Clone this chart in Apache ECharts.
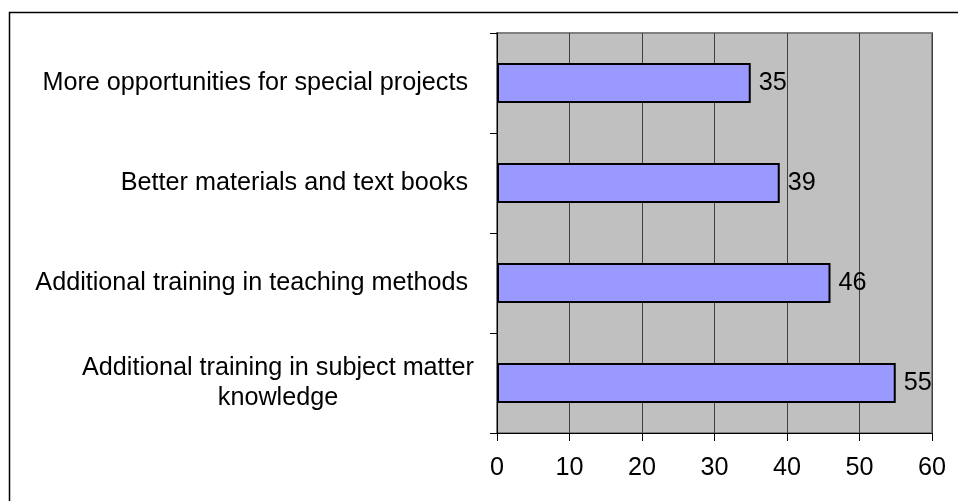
<!DOCTYPE html>
<html>
<head>
<meta charset="utf-8">
<style>
  html, body { margin: 0; padding: 0; background: #ffffff; }
  #chart { width: 958px; height: 501px; }
</style>
<script src="https://cdn.jsdelivr.net/npm/echarts@6/dist/echarts.min.js"></script>
</head>
<body>
<div id="chart"></div>
<script>
// Survey responses: what would most help teachers (percent)
const categories = [
  'More opportunities for special projects',
  'Better materials and text books',
  'Additional training in teaching methods',
  'Additional training in subject matter\nknowledge'
];
const values = [35, 39, 46, 55];
const xTicks = [0, 10, 20, 30, 40, 50, 60];

const FONT = 'Liberation Sans, Arial, sans-serif';
const FS = 25.2;
const chart = echarts.init(document.getElementById('chart'), null, { renderer: 'canvas' });

chart.setOption({
  backgroundColor: '#ffffff',
  animation: false,
  graphic: [{
    type: 'rect',
    shape: { x: 9.5, y: 12.5, width: 1000, height: 600 },
    style: { fill: 'none', stroke: '#000000', lineWidth: 1.5 },
    z: 0
  }],
  grid: {
    left: 497, right: 26, top: 33, bottom: 68,
    show: true,
    backgroundColor: '#C0C0C0',
    borderColor: '#808080',
    borderWidth: 2
  },
  xAxis: {
    type: 'value',
    min: xTicks[0],
    max: xTicks[xTicks.length - 1],
    interval: 10,
    axisLine: { show: true, lineStyle: { color: '#000000', width: 1 } },
    axisTick: { show: true, length: 8, lineStyle: { color: '#000000' } },
    splitLine: { show: true, lineStyle: { color: '#404040', width: 1 } },
    axisLabel: { color: '#000000', fontSize: FS, fontFamily: FONT, margin: 23 }
  },
  yAxis: {
    type: 'category',
    inverse: true,
    data: categories,
    axisLine: { show: true, lineStyle: { color: '#000000', width: 1 } },
    axisTick: { show: true, length: 7, lineStyle: { color: '#000000' } },
    axisLabel: {
      color: '#000000',
      fontSize: FS,
      fontFamily: FONT,
      margin: 29,
      align: 'right',
      lineHeight: 30,
      formatter: function (v) {
        if (v.indexOf('\n') >= 0) {
          return v.split('\n').map(function (l) { return '{c|' + l + '}'; }).join('\n');
        }
        return v;
      },
      rich: {
        c: { width: 380, align: 'center', fontSize: FS, fontFamily: FONT, color: '#000000', lineHeight: 30 }
      }
    }
  },
  series: [{
    type: 'bar',
    data: values,
    barWidth: 40,
    itemStyle: { color: '#9999FF', borderColor: '#000000', borderWidth: 2 },
    label: {
      show: true,
      position: 'right',
      distance: 8,
      color: '#000000',
      fontSize: FS,
      fontFamily: FONT
    }
  }]
});
</script>
</body>
</html>
